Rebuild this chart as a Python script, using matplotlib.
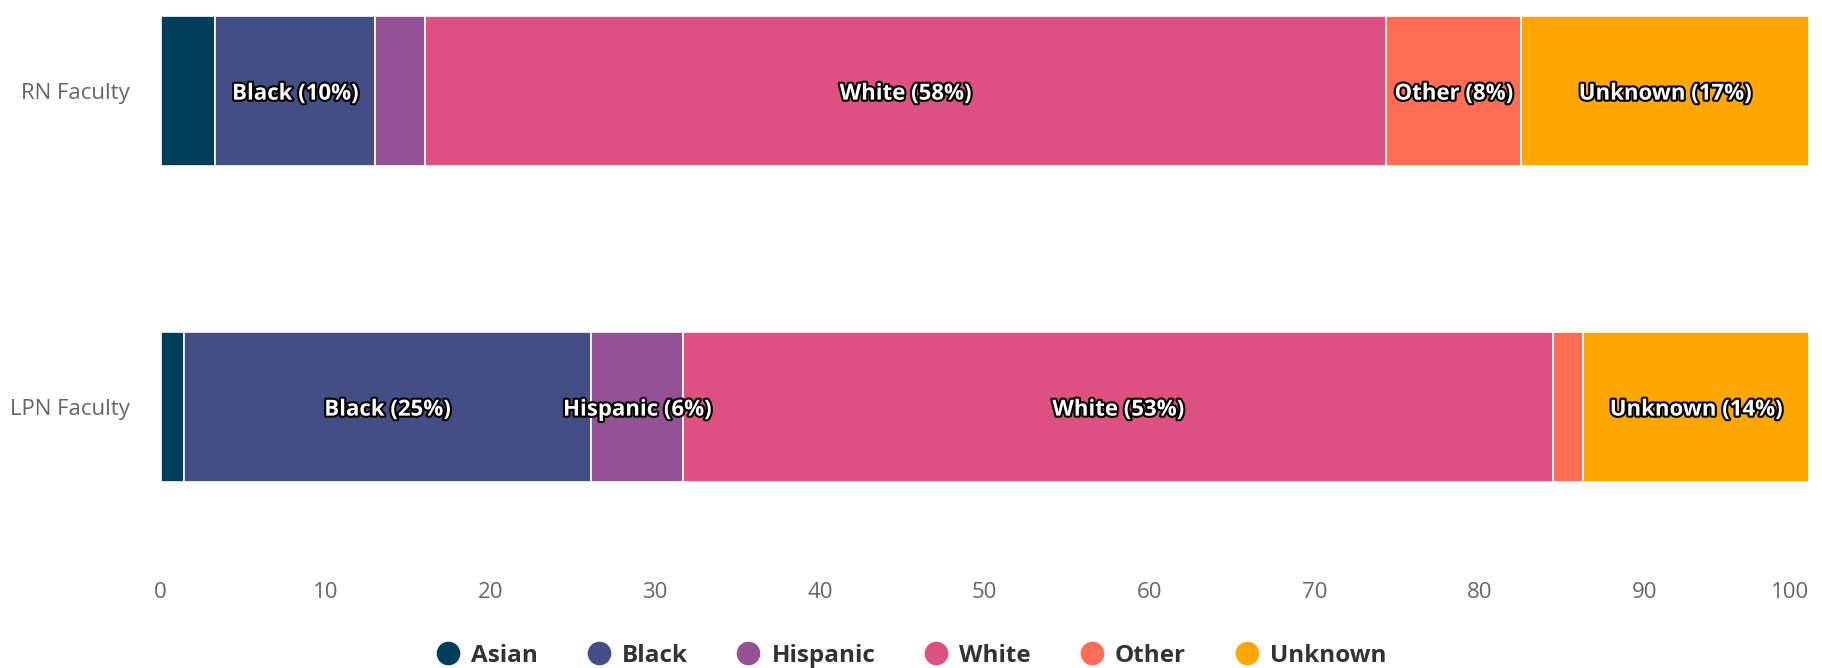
import matplotlib
matplotlib.use("Agg")
import matplotlib.pyplot as plt
import matplotlib.patheffects as pe
from matplotlib.lines import Line2D

# data (percent of faculty)
categories = ["RN Faculty", "LPN Faculty"]
groups = ["Asian", "Black", "Hispanic", "White", "Other", "Unknown"]
asian = [3.33, 1.41]
black = [9.69, 24.72]
hispanic = [3.03, 5.59]
white = [58.3, 52.77]
other = [8.2, 1.82]
unknown = [17.45, 13.69]
colors = ["#003f5c", "#444e86", "#955196", "#dd5182", "#ff6e54", "#ffa600"]

series = [asian, black, hispanic, white, other, unknown]

plt.rcParams["font.family"] = ["Open Sans", "DejaVu Sans"]

fig = plt.figure(figsize=(18.22, 6.68), dpi=100)
ax = fig.add_axes([160.5 / 1822, (668 - 570) / 668, (1809 - 160.5) / 1822, 570 / 668])

ypos = list(range(len(categories)))
left = [0.0] * len(categories)
for name, vals, col in zip(groups, series, colors):
    ax.barh(ypos, vals, left=left, height=0.475, color=col,
            edgecolor="white", linewidth=1.2, label=name)
    for i, v in enumerate(vals):
        if v >= 5:
            ax.text(left[i] + v / 2, ypos[i] + 0.01, f"{name} ({round(v)}%)",
                    ha="center", va="center", color="white", fontsize=16,
                    fontweight="bold",
                    path_effects=[pe.withStroke(linewidth=3, foreground="black")])
    left = [l + v for l, v in zip(left, vals)]

ax.set_xlim(0, 100)
ax.set_ylim(1.516, -0.288)
ax.set_yticks(ypos)
ax.set_yticklabels(categories)
ax.set_xticks(range(0, 101, 10))
ax.tick_params(axis="both", length=0, labelcolor="#666666", labelsize=16)
ax.tick_params(axis="y", pad=22)
ax.tick_params(axis="x", pad=9)
ax.get_xticklabels()[-1].set_horizontalalignment("right")
for s in ax.spines.values():
    s.set_visible(False)

handles = [Line2D([0], [0], marker="o", linestyle="none", markersize=16,
                  markerfacecolor=c, markeredgecolor=c) for c in colors]
leg = fig.legend(handles, groups, loc="center", bbox_to_anchor=(0.5, 0.018),
                 ncol=6, frameon=False, fontsize=17.5, handletextpad=0.45,
                 columnspacing=2.0, handlelength=1.0)
for t in leg.get_texts():
    t.set_fontweight("bold")
    t.set_color("#333333")

fig.savefig("out.png", dpi=100)
